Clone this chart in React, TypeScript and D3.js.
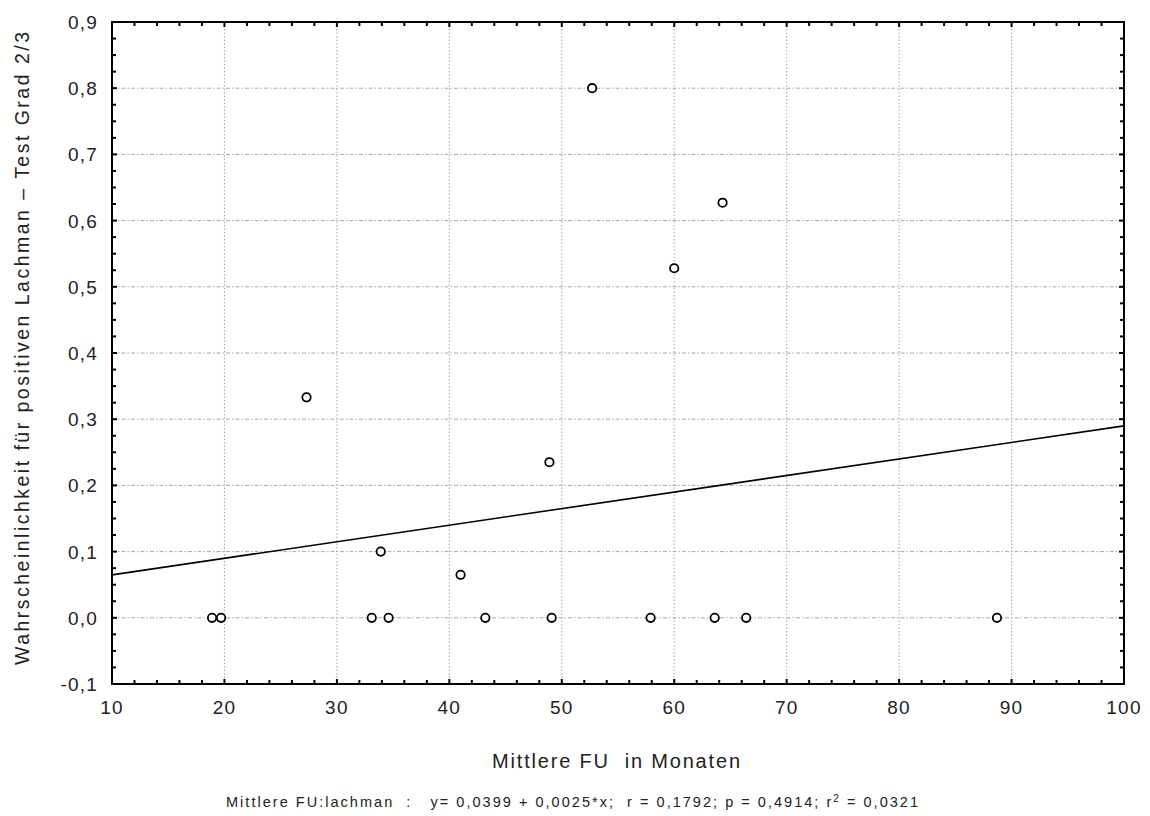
import React from "react";
import * as d3 from "d3";

// Mean follow-up (months) per study and probability of a positive Lachman test
const followUpMonths = [18.9, 19.7, 27.3, 33.1, 33.9, 34.6, 41.0, 43.2, 48.9, 49.1, 52.7, 57.9, 60.0, 63.6, 64.3, 66.4, 88.7];
const probPositive = [0, 0, 0.333, 0, 0.1, 0, 0.065, 0, 0.235, 0, 0.8, 0, 0.528, 0, 0.627, 0, 0];

// Linear fit y = a + b*x
const fitIntercept = 0.0399;
const fitSlope = 0.0025;

const xTicks = [10, 20, 30, 40, 50, 60, 70, 80, 90, 100];
const yTicks = [-0.1, 0, 0.1, 0.2, 0.3, 0.4, 0.5, 0.6, 0.7, 0.8, 0.9];

const xTitle = "Mittlere FU  in Monaten";
const yTitle = "Wahrscheinlichkeit für positiven Lachman – Test Grad 2/3";
const footerMain = "Mittlere FU:lachman  :   y= 0,0399 + 0,0025*x;  r = 0,1792; p = 0,4914; r";
const footerSup = "2";
const footerTail = " = 0,0321";

const W = 1150;
const H = 816;
const M = { left: 112, right: 1124, top: 22, bottom: 684 };
const FONT = "'Liberation Sans', Arial, sans-serif";

export default function App() {
  const x = d3.scaleLinear().domain([10, 100]).range([M.left, M.right]);
  const y = d3.scaleLinear().domain([-0.1, 0.9]).range([M.bottom, M.top]);

  const fmt = (v: number) => d3.format(".1f")(v).replace(".", ",").replace("−", "-");

  const xMinor = d3.range(10, 100.001, 2);
  const yMinor = d3.range(-0.1, 0.9001, 0.025);

  const line = d3
    .line<number>()
    .x((d) => x(d))
    .y((d) => y(fitIntercept + fitSlope * d));

  const gridX = xTicks.slice(1, -1);
  const gridY = yTicks.slice(1, -1);

  return (
    <svg
      width={W}
      height={H}
      style={{ position: "absolute", left: 0, top: 0, background: "#fff" }}
      fontFamily={FONT}
    >
      {/* grid */}
      <g stroke="#a8a8a8" strokeWidth={1} fill="none">
        {gridX.map((t) => (
          <line key={"gx" + t} x1={x(t)} x2={x(t)} y1={M.top} y2={M.bottom} strokeDasharray="1.5,2" />
        ))}
        {gridY.map((t) => (
          <line key={"gy" + t} x1={M.left} x2={M.right} y1={y(t)} y2={y(t)} strokeDasharray="4,2,1.5,2" />
        ))}
      </g>

      {/* ticks on all four sides, pointing inward */}
      <g stroke="#000" strokeWidth={2}>
        {xMinor.map((t, i) => {
          const len = i % 5 === 0 ? 5 : 4;
          return (
            <g key={"xt" + i}>
              <line x1={x(t)} x2={x(t)} y1={M.bottom} y2={M.bottom - len} />
              <line x1={x(t)} x2={x(t)} y1={M.top} y2={M.top + len} />
            </g>
          );
        })}
        {yMinor.map((t, i) => {
          const len = i % 4 === 0 ? 5 : 4;
          return (
            <g key={"yt" + i}>
              <line x1={M.left} x2={M.left + len} y1={y(t)} y2={y(t)} />
              <line x1={M.right} x2={M.right - len} y1={y(t)} y2={y(t)} />
            </g>
          );
        })}
      </g>

      {/* regression line */}
      <path d={line([10, 100]) || ""} fill="none" stroke="#000" strokeWidth={1.6} />

      {/* points */}
      <g fill="#fff" stroke="#000" strokeWidth={1.8}>
        {followUpMonths.map((v, i) => (
          <circle key={"p" + i} cx={x(v)} cy={y(probPositive[i])} r={4.2} />
        ))}
      </g>

      {/* frame */}
      <rect
        x={M.left}
        y={M.top}
        width={M.right - M.left}
        height={M.bottom - M.top}
        fill="none"
        stroke="#000"
        strokeWidth={2}
      />

      {/* tick labels */}
      <g fontSize={19} fill="#222" letterSpacing={1.2}>
        {xTicks.map((t) => (
          <text key={"xl" + t} x={x(t)} y={M.bottom + 30} textAnchor="middle">
            {String(t)}
          </text>
        ))}
        {yTicks.map((t) => (
          <text key={"yl" + t} x={M.left - 14} y={y(t) + 7} textAnchor="end">
            {fmt(t)}
          </text>
        ))}
      </g>

      {/* axis titles */}
      <text
        x={616}
        y={768}
        textAnchor="middle"
        fontSize={20}
        fill="#222"
        textLength={248}
        lengthAdjust="spacing"
        style={{ whiteSpace: "pre" }}
      >
        {xTitle}
      </text>
      <text
        transform={`translate(29,${(32 + 665) / 2}) rotate(-90)`}
        textAnchor="middle"
        fontSize={19.5}
        fill="#222"
        textLength={633}
        lengthAdjust="spacing"
      >
        {yTitle}
      </text>

      {/* fit summary */}
      <text
        x={226}
        y={807}
        fontSize={14.5}
        fill="#222"
        textLength={692}
        lengthAdjust="spacing"
        style={{ whiteSpace: "pre" }}
      >
        {footerMain}
        <tspan fontSize={10} dy={-5}>{footerSup}</tspan>
        <tspan dy={5}>{footerTail}</tspan>
      </text>
    </svg>
  );
}
